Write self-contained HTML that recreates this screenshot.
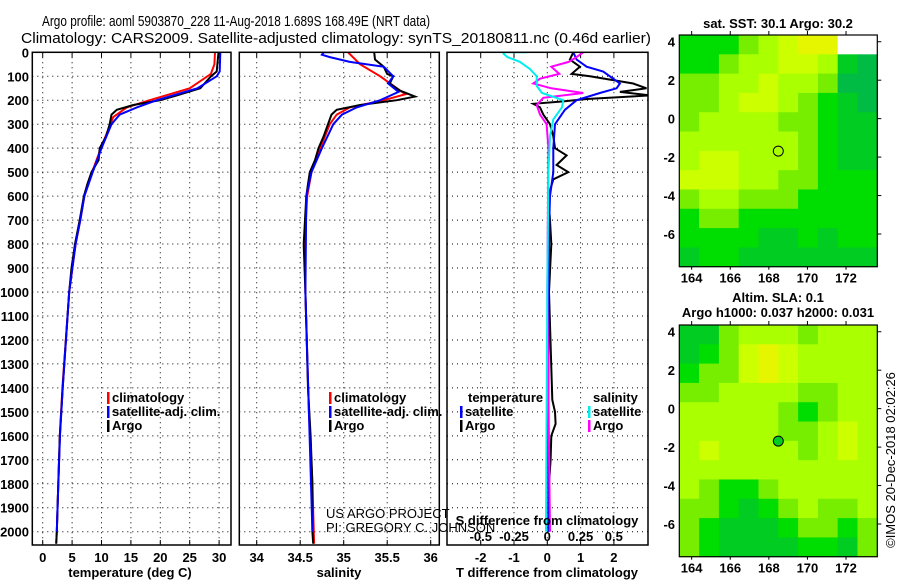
<!DOCTYPE html>
<html><head><meta charset="utf-8">
<style>
html,body{margin:0;padding:0;background:#fff;}
svg{display:block;font-family:"Liberation Sans",sans-serif;}
.tk{font-size:13px;font-weight:bold;}
</style></head>
<body>
<svg id="c" width="900" height="580" xmlns="http://www.w3.org/2000/svg">
<text x="42" y="26" font-size="15" textLength="388" lengthAdjust="spacingAndGlyphs">Argo profile: aoml 5903870_228 11-Aug-2018 1.689S 168.49E (NRT data)</text>
<text x="21" y="43" font-size="15" textLength="630" lengthAdjust="spacingAndGlyphs">Climatology: CARS2009. Satellite-adjusted climatology: synTS_20180811.nc (0.46d earlier)</text>
<g id="g"></g>
</svg>
<script>
// ---- data ----
const depthTicks=[0,100,200,300,400,500,600,700,800,900,1000,1100,1200,1300,1400,1500,1600,1700,1800,1900,2000];
const tTicks=[0,5,10,15,20,25,30];
const sTicks=[34,34.5,35,35.5,36];
const dTTicks=[-2,-1,0,1,2];
const dSTicks=[-0.5,-0.25,0,0.25,0.5];
const dSTickLabels=["-0.5","-0.25","0","0.25","0.5"];

const tArgoDepth=[0,80,100,150,180,200,220,240,260,300,350,400,450,500,550,600,700,800,900,1000,1400,1600,1800,2000,2050];
const tArgo=[29.9,29.6,28.6,26.8,22.8,20,15.4,12.6,11.7,11.4,10.8,9.7,9.5,8.3,7.6,7.0,6.3,5.5,4.9,4.5,3.4,2.9,2.65,2.4,2.3];
const tClimDepth=[0,50,90,150,200,230,270,300,400,500,600,700,800,1000,1400,1600,1800,2000,2050];
const tClim=[29.3,29.2,28.6,25,18.2,14.3,12,11.5,9.9,8.4,7.1,6.4,5.6,4.5,3.35,2.9,2.65,2.4,2.3];
const tSatDepth=[0,80,100,150,200,230,260,300,400,500,600,700,800,1000,1400,1600,1800,2000];
const tSat=[30.2,30.1,29.6,26.3,19.4,16,13.1,11.7,10,8.5,7.1,6.4,5.6,4.5,3.4,2.95,2.65,2.4];

const sArgoDepth=[0,30,60,90,100,130,160,185,200,220,240,260,300,350,400,450,500,550,600,800,1000,1400,1600,1800,2000,2050];
const sArgo=[35.35,35.36,35.46,35.5,35.57,35.53,35.65,35.82,35.61,35.19,34.92,34.86,34.82,34.77,34.71,34.67,34.61,34.59,34.57,34.54,34.56,34.59,34.62,34.64,34.64,34.65];
const sClimDepth=[0,50,100,150,175,200,230,260,300,400,500,600,800,1000,1500,1800,2050];
const sClim=[35.05,35.19,35.42,35.61,35.71,35.46,35.07,34.92,34.84,34.73,34.63,34.58,34.55,34.56,34.6,34.64,34.66];
const sSatDepth=[0,0,10,20,40,60,100,130,165,200,230,260,300,400,500,600,1000,1500,2000];
const sSat=[34.88,34.77,34.75,34.84,35.07,35.46,35.57,35.51,35.63,35.42,35.15,34.98,34.88,34.75,34.63,34.57,34.56,34.6,34.64];

const dTArgoDepth=[0,30,60,90,100,130,150,165,180,195,205,215,230,260,300,350,400,430,470,500,530,600,700,800,1000,1450,1500,1550,1600,1700,1800,1900,2000];
const dTArgo=[0.78,0.68,0.98,0.73,1.28,2.58,2.98,2.18,3.08,1.18,0.48,-0.42,-0.22,-0.12,0.08,0.18,0.23,0.58,0.28,0.63,0.18,0.03,0.08,0.12,0.05,0.15,0.23,0.25,0.12,0.1,0.05,0.03,0.05];
const dTSatDepth=[0,30,60,80,100,130,150,170,200,240,300,400,500,600,700,1000,1500,2000];
const dTSat=[0.78,0.88,1.18,1.68,1.88,2.18,2.08,1.58,0.88,0.53,0.23,0.18,0.18,0.08,0.06,0.04,0.03,0.03];
const dSSatDepth=[0,0,5,20,40,70,100,140,170,200,230,280,350,500,1000,1500,2000];
const dSSat=[-0.15,-0.33,-0.33,-0.3,-0.205,-0.13,-0.08,-0.08,-0.04,0.12,0.11,0.045,0.02,0.008,0,-0.005,-0.01];
const dSArgoDepth=[0,20,40,60,90,110,130,150,170,190,220,260,300,400,1000,1500,2000];
const dSArgo=[0.27,0.22,0.16,0.03,0.09,-0.055,-0.105,0.03,0.27,-0.03,-0.08,-0.055,-0.005,0.008,0,0.01,0.02];

const lonTicks=[164,166,168,170,172];
const latTicks=[4,2,0,-2,-4,-6];
const argoLon=168.49, argoLat=-1.689;
const sstGrid=[
[4,4,4,5,6,7,8,8,-1,-1],
[4,4,5,6,6,7,7,6,3,2],
[5,5,6,6,7,6,6,5,2,2],
[5,5,6,7,7,6,5,4,3,2],
[5,6,6,6,6,5,5,4,3,3],
[6,6,6,6,6,6,5,4,3,3],
[6,7,7,6,6,6,5,4,3,3],
[7,7,7,6,6,5,5,4,4,4],
[5,6,6,5,5,5,4,4,4,4],
[4,5,5,4,4,4,4,4,4,4],
[4,4,4,4,3,3,4,3,4,4],
[3,4,4,3,3,3,3,3,3,3]];
const slaGrid=[
[3,3,5,6,6,6,5,6,6,6],
[3,4,5,7,8,7,6,6,6,6],
[4,5,5,7,8,7,6,6,6,6],
[5,5,6,6,6,6,5,5,6,6],
[6,6,6,6,6,5,4,5,6,6],
[6,6,6,6,6,5,5,6,7,6],
[6,7,6,6,6,6,5,6,7,6],
[6,6,6,6,6,6,6,6,6,6],
[6,5,4,4,5,6,6,6,6,6],
[5,5,4,3,4,5,6,5,5,6],
[5,4,3,3,3,4,5,5,4,5],
[5,4,3,3,3,3,4,4,3,5]];
const palette=["#009977","#00aa66","#00bb44","#00cc22","#00dd00","#77ee00","#aaff00","#ccff00","#e6f500","#ffaa00"];

// ---- drawing ----
const NS="http://www.w3.org/2000/svg";
const G=document.getElementById('g');
function el(tag,attrs,parent){const e=document.createElementNS(NS,tag);for(const k in attrs)e.setAttribute(k,attrs[k]);(parent||G).appendChild(e);return e;}
function txt(x,y,s,attrs){const e=el('text',Object.assign({x:x,y:y},attrs||{}));e.textContent=s;return e;}

const Y0=52.3,YS=0.2397,YB=545;
const yD=d=>Y0+d*YS;
const xT=v=>42.7+v*5.88;
const xS=v=>256.7+(v-34)*87;
const xDT=v=>547.3+v*33.3;
const xDS=v=>547.3+v*133;
const panels=[{l:32.3,r:231,name:'temperature'},{l:239.3,r:439.3,name:'salinity'},{l:447,r:648,name:'difference'}];

panels.forEach((p,i)=>{
  const cp=el('clipPath',{id:'cp'+i});
  el('rect',{x:p.l,y:Y0,width:p.r-p.l,height:YB-Y0},cp);
  depthTicks.forEach(d=>{
    const ln=el('line',{x1:p.l,x2:p.r,y1:yD(d),y2:yD(d),stroke:'#000','stroke-width':1,'stroke-dasharray':'1,4'});
    
    
  });
});
function vgrid(vals,fx){vals.forEach(v=>{
  const ln=el('line',{x1:fx(v),x2:fx(v),y1:Y0,y2:YB,stroke:'#000','stroke-width':1,'stroke-dasharray':'1,4'});
  
  
  el('line',{x1:fx(v),x2:fx(v),y1:YB,y2:YB-5,stroke:'#000'});
  el('line',{x1:fx(v),x2:fx(v),y1:Y0,y2:Y0+5,stroke:'#000'});
});}
vgrid(tTicks,xT);vgrid(sTicks,xS);vgrid(dTTicks,xDT);

function series(ds,vs,fx,color,name,ci,w){
  const pts=ds.map((d,i)=>fx(vs[i]).toFixed(1)+','+yD(d).toFixed(1)).join(' ');
  const pl=el('polyline',{points:pts,fill:'none',stroke:color,'stroke-width':w||2,'clip-path':'url(#cp'+ci+')'});
  
  
}
series(tClimDepth,tClim,xT,'#ff0000','temperature-climatology-line',0);
series(tArgoDepth,tArgo,xT,'#000','temperature-argo-line',0);
series(tSatDepth,tSat,xT,'#0000ff','temperature-satellite-line',0);
series(sClimDepth,sClim,xS,'#ff0000','salinity-climatology-line',1);
series(sArgoDepth,sArgo,xS,'#000','salinity-argo-line',1);
series(sSatDepth,sSat,xS,'#0000ff','salinity-satellite-line',1);
series(dTArgoDepth,dTArgo,xDT,'#000','t-diff-argo-line',2);
series(dTSatDepth,dTSat,xDT,'#0000ff','t-diff-satellite-line',2);
series(dSArgoDepth,dSArgo,xDS,'#ff00ff','s-diff-argo-line',2);
series(dSSatDepth,dSSat,xDS,'#00eeee','s-diff-satellite-line',2);

panels.forEach(p=>{
  const r=el('rect',{x:p.l,y:Y0,width:p.r-p.l,height:YB-Y0,fill:'none',stroke:'#000','stroke-width':1.5});
  
  
});
depthTicks.forEach(d=>{
  const t=txt(29,yD(d)+5,String(d),{'class':'tk','text-anchor':'end'});
  
  
});
tTicks.forEach(v=>{const t=txt(xT(v),562,String(v),{'class':'tk','text-anchor':'middle'});
  });
sTicks.forEach(v=>{const t=txt(xS(v),562,String(v),{'class':'tk','text-anchor':'middle'});
  });
dTTicks.forEach(v=>{const t=txt(xDT(v),562,String(v),{'class':'tk','text-anchor':'middle'});
  });
dSTicks.forEach((v,i)=>{const t=txt(xDS(v),541,dSTickLabels[i],{'class':'tk','text-anchor':'middle'});
  });
[['temperature (deg C)',130],['salinity',339],['T difference from climatology',547]].forEach(a=>{
  const t=txt(a[1],577,a[0],{'class':'tk','text-anchor':'middle'});
  });
{const t=txt(547,525,'S difference from climatology',{'class':'tk','text-anchor':'middle'});
 }
{const t=txt(326,518,'US ARGO PROJECT',{'font-size':13});
 const t2=txt(326,532,'PI: GREGORY C. JOHNSON',{'font-size':13});}

function legend(x,y,color,label){
  el('rect',{x:x,y:y-10,width:2.5,height:12,fill:color});
  const t=txt(x+5,y,label,{'class':'tk'});
  
}
legend(107,402,'#ff0000','climatology');legend(107,416,'#0000ff','satellite-adj. clim.');legend(107,430,'#000','Argo');
legend(329,402,'#ff0000','climatology');legend(329,416,'#0000ff','satellite-adj. clim.');legend(329,430,'#000','Argo');
{const t=txt(468,402,'temperature',{'class':'tk'});}
legend(460,416,'#0000ff','satellite');legend(460,430,'#000','Argo');
{const t=txt(593,402,'salinity',{'class':'tk'});}
legend(588,416,'#00eeee','satellite');legend(588,430,'#ff00ff','Argo');

// ---- maps ----
const LON0=163.36,LON1=173.62,LAT0=4.35,LAT1=-7.7,MX0=679.3,MX1=877.3;
function drawMap(top,grid,name){
  const bot=top+231.7;
  const xL=v=>MX0+(v-LON0)/(LON1-LON0)*(MX1-MX0);
  const yL=v=>top+(LAT0-v)/(LAT0-LAT1)*(bot-top);
  const rows=grid.length,cols=grid[0].length;
  const cw=(MX1-MX0)/cols,ch=(bot-top)/rows;
  grid.forEach((row,r)=>row.forEach((v,c)=>{
    const cell=el('rect',{x:(MX0+c*cw).toFixed(2),y:(top+r*ch).toFixed(2),width:(cw+0.5).toFixed(2),height:(ch+0.5).toFixed(2),fill:v<0?'#fff':palette[v]});
    
    
  }));
  const fr=el('rect',{x:MX0,y:top,width:MX1-MX0,height:bot-top,fill:'none',stroke:'#000','stroke-width':1.2});
  
  lonTicks.forEach(v=>{
    el('line',{x1:xL(v),x2:xL(v),y1:top,y2:top-4,stroke:'#000'});
    el('line',{x1:xL(v),x2:xL(v),y1:bot,y2:bot+3,stroke:'#000'});
    const t=txt(xL(v),bot+16,String(v),{'class':'tk','text-anchor':'middle'});
    
  });
  latTicks.forEach(v=>{
    el('line',{x1:MX1,x2:MX1+4,y1:yL(v),y2:yL(v),stroke:'#000'});
    const t=txt(675,yL(v)+5,String(v),{'class':'tk','text-anchor':'end'});
    
  });
  const c=el('circle',{cx:xL(argoLon),cy:yL(argoLat),r:5,fill:name==='sla-map'?'#00cc22':'none',stroke:'#000','stroke-width':1});
  
}
drawMap(35,sstGrid,'sst-map');
drawMap(325,slaGrid,'sla-map');
{const t=txt(778,28,'sat. SST: 30.1 Argo: 30.2',{'class':'tk','text-anchor':'middle'});}
{const t=txt(778,302,'Altim. SLA: 0.1',{'class':'tk','text-anchor':'middle'});}
{const t=txt(778,317,'Argo h1000: 0.037 h2000: 0.031',{'class':'tk','text-anchor':'middle'});}
{const t=txt(0,0,'©IMOS 20-Dec-2018 02:02:26',{'font-size':13,'text-anchor':'middle',transform:'translate(895,460) rotate(-90)'});
 }
</script>
</body></html>
